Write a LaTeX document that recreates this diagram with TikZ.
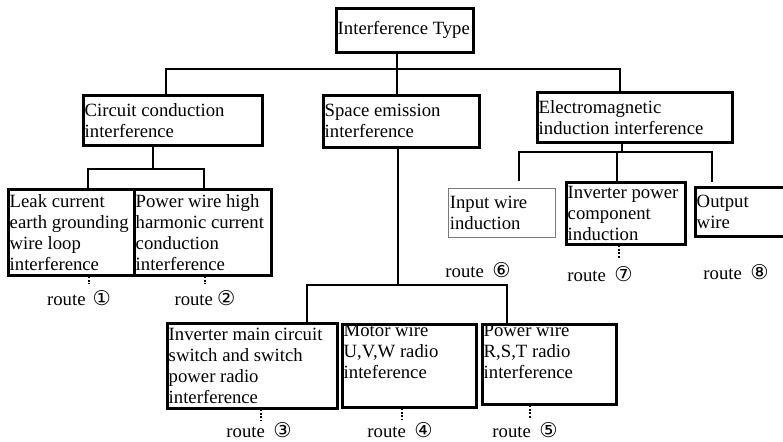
\documentclass[tikz,border=0pt]{standalone}
\usepackage{fontspec}
\setmainfont{Liberation Serif}
\newfontfamily\circfont{DejaVu Sans}
\usepackage{tikz}
\usetikzlibrary{calc}
\definecolor{mydark}{RGB}{0,0,0}
\definecolor{mygray}{RGB}{120,120,120}
\newcommand{\boxfont}{\fontsize{13.3}{14.9}\selectfont}
\newcommand{\circno}[1]{{\circfont\fontsize{14.5}{14.5}\selectfont #1}}
\newcommand{\cellt}[4]{\begin{minipage}[c][#2][#3]{#1}\raggedright\leftskip=1pt\relax #4\end{minipage}}
\tikzset{
  typebox/.style={rectangle, draw=mydark, line width=1.9pt, anchor=north west,
    inner sep=0pt, font=\boxfont},
  thinbox/.style={typebox, draw=mygray, line width=0.7pt},
  conn/.style={line width=1.9pt, color=mydark},
  dotconn/.style={line width=1.7pt, color=mydark, dash pattern=on 1.2pt off 1.2pt},
  routelbl/.style={font=\boxfont, inner sep=0pt}
}
\begin{document}
\begin{tikzpicture}[x=0.025cm, y=-0.025cm]
  \useasboundingbox (0,0) rectangle (783,441);
  % top and second level
  \node[typebox] (root) at (335,7) {\cellt{3.425cm}{1.1cm}{c}{Interference Type}};
  \node[typebox] (cc) at (82,94) {\cellt{4.475cm}{1.25cm}{c}{Circuit conduction\\interference}};
  \node[typebox] (sp) at (322,94) {\cellt{3.9cm}{1.3cm}{c}{Space emission\\interference}};
  \node[typebox] (em) at (536,91) {\cellt{4.875cm}{1.25cm}{c}{Electromagnetic\\induction interference}};
  % conduction branch
  \node[typebox] (leak) at (7,188) {\cellt{3.15cm}{2.15cm}{c}{Leak current\\earth grounding\\wire loop\\interference}};
  \node[typebox] (pw) at (133,188) {\cellt{3.425cm}{2.15cm}{c}{Power wire high\\harmonic current\\conduction\\interference}};
  % induction branch
  \node[thinbox] (inw) at (448,188) {\cellt{2.675cm}{1.225cm}{c}{Input wire\\induction}};
  \node[typebox] (ip) at (565,181) {\cellt{2.975cm}{1.55cm}{c}{Inverter power\\component\\induction}};
  \node[typebox] (out) at (694,186) {\cellt{2.3cm}{1.225cm}{c}{Output\\wire}};
  % emission branch
  \node[typebox] (im) at (166,322) {\cellt{4.25cm}{2.125cm}{c}{Inverter main circuit\\switch and switch\\power radio\\interference}};
  \node[typebox] (mw) at (341,323) {\cellt{3.35cm}{2.075cm}{t}{Motor wire\\U,V,W radio\\inteference}};
  \node[typebox] (rst) at (481,323) {\cellt{3.35cm}{2.0cm}{t}{Power wire\\R,S,T radio\\interference}};
  % route labels
  \node[routelbl] (r1) at (79,298) {route\hspace{5pt}\circno{①}};
  \node[routelbl] (r2) at (205,298) {route\hspace{3pt}\circno{②}};
  \node[routelbl] (r3) at (259,430) {route\hspace{6pt}\circno{③}};
  \node[routelbl] (r4) at (400,430) {route\hspace{6pt}\circno{④}};
  \node[routelbl] (r5) at (525,430) {route\hspace{6pt}\circno{⑤}};
  \node[routelbl] (r6) at (478,270) {route\hspace{6pt}\circno{⑥}};
  \node[routelbl] (r7) at (600,274) {route\hspace{6pt}\circno{⑦}};
  \node[routelbl] (r8) at (736,272) {route\hspace{6pt}\circno{⑧}};
  % junctions
  \coordinate (b0) at (397,69);
  \coordinate (b1w) at (166,69);
  \coordinate (b1e) at (620,69);
  \coordinate (b2) at (153,169);
  \coordinate (b2w) at (88,169);
  \coordinate (b2e) at (204,169);
  \coordinate (b3) at (622,152);
  \coordinate (b3w) at (519,152);
  \coordinate (b3m) at (617,152);
  \coordinate (b3e) at (712,152);
  \coordinate (t6) at (519,181);
  \coordinate (t8) at (712,182);
  \coordinate (b4) at (398,285);
  \coordinate (b4w) at (307,285);
  \coordinate (b4e) at (507,285);
  % tree lines
  \draw[conn] (b0 |- root.south) -- (b0 |- sp.north);
  \draw[conn] (b1w |- cc.north) -- (b1w) -- (b1e) -- (b1e |- em.north);
  \draw[conn] (b2 |- cc.south) -- (b2);
  \draw[conn] (b2w |- leak.north) -- (b2w) -- (b2e) -- (b2e |- pw.north);
  \draw[conn] (b3 |- em.south) -- (b3);
  \draw[conn] (t6) -- (b3w) -- (b3e) -- (t8);
  \draw[conn] (b3m) -- (b3m |- ip.north);
  \draw[conn] (b4 |- sp.south) -- (b4);
  \draw[conn] (b4w |- im.north) -- (b4w) -- (b4e) -- (b4e |- rst.north);
  % dotted leads
  \coordinate (d1) at (89,284);
  \coordinate (d2) at (205,284);
  \coordinate (d3) at (261,420);
  \coordinate (d4) at (402,420);
  \coordinate (d5) at (530,418);
  \coordinate (d7) at (619,258);
  \draw[dotconn] (d1 |- leak.south) -- (d1);
  \draw[dotconn] (d2 |- pw.south) -- (d2);
  \draw[dotconn] (d3 |- im.south) -- (d3);
  \draw[dotconn] (d4 |- mw.south) -- (d4);
  \draw[dotconn] (d5 |- rst.south) -- (d5);
  \draw[dotconn] (d7 |- ip.south) -- (d7);
\end{tikzpicture}
\end{document}
